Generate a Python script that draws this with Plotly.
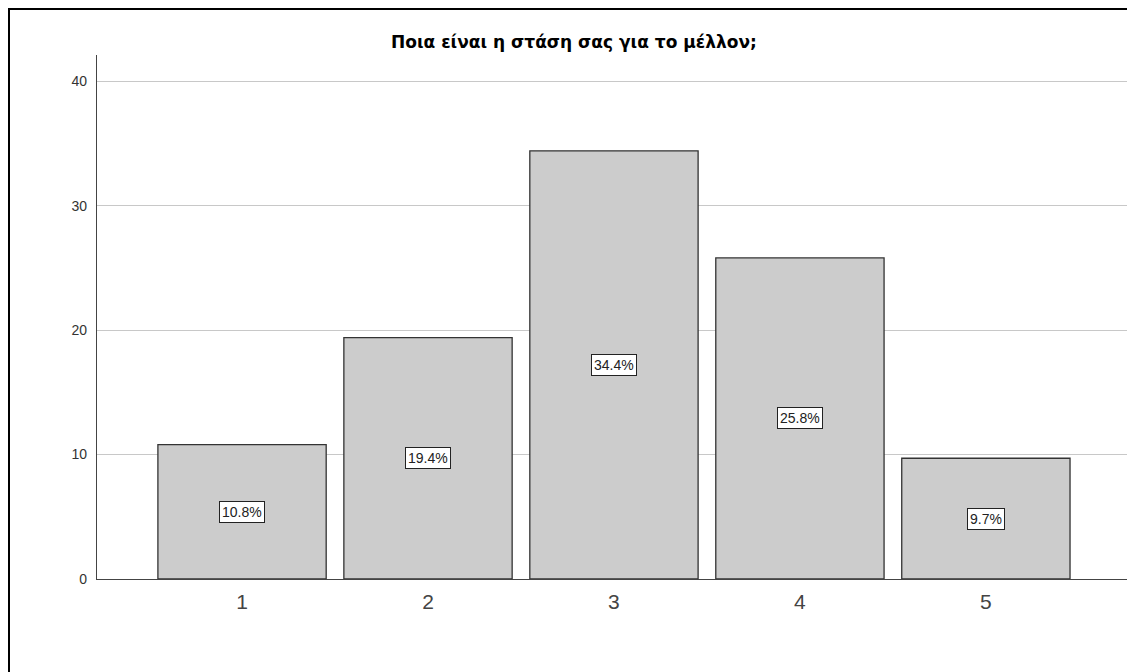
import plotly.graph_objects as go

categories = ["1", "2", "3", "4", "5"]
percents = [10.8, 19.4, 34.4, 25.8, 9.7]
labels = ["10.8%", "19.4%", "34.4%", "25.8%", "9.7%"]
title_text = "Ποια είναι η στάση σας για το μέλλον;"

OFF = 8  # page body offset
W, H = 1135, 672
ml, mr, mt, mb = 97 - OFF, 13, 55 - OFF, H - (579 - OFF)
pw = W - ml - mr
ph = H - mt - mb

fig = go.Figure()
fig.add_trace(go.Bar(
    x=list(range(1, 6)), y=percents,
    marker=dict(color="#cccccc", line=dict(color="#333333", width=1.3)),
    width=0.905, hoverinfo="skip",
))

for i, (v, t) in enumerate(zip(percents, labels)):
    fig.add_annotation(x=i + 1, y=v / 2, text=t, showarrow=False,
                       font=dict(family="Liberation Sans, Arial", size=14, color="#222"),
                       bgcolor="white", bordercolor="#222", borderwidth=1, borderpad=2)

fig.add_annotation(xref="paper", yref="paper", x=(574 - OFF - ml) / pw, y=(579 - 42) / ph,
                   text=title_text, showarrow=False, xanchor="center", yanchor="middle",
                   font=dict(family="DejaVu Sans", size=17, color="black", weight="bold"))

# outer frame
fig.add_shape(type="rect", xref="paper", yref="paper",
              x0=(1 - ml) / pw, x1=(W + 10 - ml) / pw,
              y0=(H - mb - (H + 10)) / ph, y1=(H - mb - 1) / ph,
              line=dict(color="black", width=2), fillcolor="rgba(0,0,0,0)", layer="above")

fig.update_layout(
    width=W, height=H, margin=dict(l=ml, r=mr, t=mt, b=mb),
    plot_bgcolor="white", paper_bgcolor="white", showlegend=False,
    xaxis=dict(range=[0.22, 5.775], tickvals=list(range(1, 6)), ticktext=categories,
               showgrid=False, showline=True, linecolor="#444", linewidth=1.3,
               ticks="", ticklabelstandoff=4,
               tickfont=dict(family="Liberation Sans, Arial", size=21, color="#444"),
               zeroline=False, fixedrange=True),
    yaxis=dict(range=[0, 42.1], tickvals=[0, 10, 20, 30, 40], showgrid=True,
               gridcolor="#c8c8c8", gridwidth=1.3, showline=True, linecolor="#444",
               linewidth=1.3, ticks="", ticklabelstandoff=6,
               tickfont=dict(family="Liberation Sans, Arial", size=14, color="#333"),
               zeroline=False, fixedrange=True),
)

fig.write_html("out.html")
